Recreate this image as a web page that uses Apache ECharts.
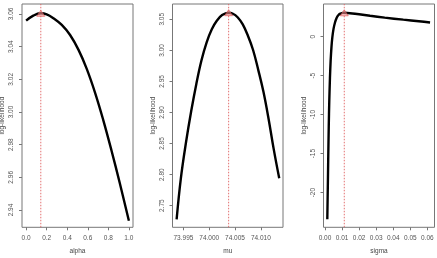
<!DOCTYPE html>
<html><head><meta charset="utf-8">
<script src="https://cdn.jsdelivr.net/npm/echarts@6/dist/echarts.min.js"></script>
<style>html,body{margin:0;padding:0;background:#fff}#c{width:437px;height:258px}</style>
</head><body><div id="c"></div>
<script>
// ---- data ----
const alphaX  = [0, 0.07, 0.143, 0.2, 0.266, 0.347, 0.428, 0.51, 0.59, 0.672, 0.75, 0.83, 0.91, 1.0];
const alphaLL = [3.0559, 3.0590, 3.0604, 3.0598, 3.0574, 3.0533, 3.0471, 3.0380, 3.0264, 3.0116, 2.9952, 2.9766, 2.9568, 2.9334];
const alphaHat = [0.143, 3.0604];
const alphaTicks = [0, 0.2, 0.4, 0.6, 0.8, 1.0];
const alphaYTicks = [2.94, 2.96, 2.98, 3.00, 3.02, 3.04, 3.06];

const muX  = [73.99368, 73.9945, 73.9955, 73.9965, 73.9975, 73.9985, 73.9995, 74.0005, 74.0015, 74.0025, 74.00376, 74.0045, 74.0055, 74.0065, 74.0075, 74.0085, 74.0095, 74.0105, 74.0115, 74.0125, 74.01357];
const muLL = [2.728, 2.794, 2.852, 2.902, 2.946, 2.984, 3.013, 3.034, 3.048, 3.0568, 3.0606, 3.0593, 3.0533, 3.0417, 3.0234, 3.0006, 2.9686, 2.9336, 2.890, 2.841, 2.794];
const muHat = [74.00376, 3.0606];
const muTicks = [73.995, 74.000, 74.005, 74.010];
const muYTicks = [2.75, 2.80, 2.85, 2.90, 2.95, 3.00, 3.05];

const sigmaX  = [0.00135, 0.0017, 0.0019, 0.0022, 0.0025, 0.0029, 0.0033, 0.0038, 0.0043, 0.005, 0.0059, 0.0068, 0.0078, 0.009, 0.0104, 0.0113, 0.013, 0.016, 0.02, 0.0264, 0.035, 0.0459, 0.055, 0.0616];
const sigmaLL = [-23.4, -18.5, -15.5, -11.5, -8.3, -5.3, -3.1, -1.3, -0.1, 1.0, 1.85, 2.4, 2.75, 2.95, 3.05, 3.06, 3.04, 2.98, 2.87, 2.68, 2.44, 2.18, 1.98, 1.82];
const sigmaHat = [0.0113, 3.06];
const sigmaTicks = [0, 0.01, 0.02, 0.03, 0.04, 0.05, 0.06];
const sigmaYTicks = [-20, -15, -10, -5, 0];

const xNames = ['alpha', 'mu', 'sigma'];
const yName = 'log-likelihood';

// ---- layout ----
const FONT = 'Liberation Sans, Arial, sans-serif';
const panels = [
  {left: 22, width: 111, xr: [-0.04, 1.04], yr: [2.9294, 3.0661], xt: alphaTicks, yt: alphaYTicks, xs: alphaX, ys: alphaLL, hat: alphaHat,
   xf: v => v.toFixed(1), yf: v => v.toFixed(2)},
  {left: 172.5, width: 110.5, xr: [73.99288, 74.01430], yr: [2.7152, 3.0746], xt: muTicks, yt: muYTicks, xs: muX, ys: muLL, hat: muHat,
   xf: v => v.toFixed(3), yf: v => v.toFixed(2)},
  {left: 323.5, width: 111, xr: [-0.00088, 0.0642], yr: [-24.44, 4.19], xt: sigmaTicks, yt: sigmaYTicks, xs: sigmaX, ys: sigmaLL, hat: sigmaHat,
   xf: v => v.toFixed(2), yf: v => String(v)}
];

const grid = [], xAxis = [], yAxis = [], series = [];
panels.forEach((p, i) => {
  grid.push({left: p.left, top: 4, width: p.width, height: 223.3, containLabel: false, outerBoundsMode: 'none',
    show: true, borderColor: '#777', borderWidth: 1, backgroundColor: 'transparent'});
  xAxis.push({
    type: 'value', gridIndex: i, min: p.xr[0], max: p.xr[1],
    name: xNames[i], nameLocation: 'middle', nameGap: 20,
    nameTextStyle: {fontSize: 6.5, color: '#444', fontFamily: FONT},
    axisLine: {show: false, onZero: false}, splitLine: {show: false},
    axisTick: {show: true, length: 3, lineStyle: {color: '#777'}, customValues: p.xt},
    axisLabel: {fontSize: 6.5, color: '#555', fontFamily: FONT, margin: 7, customValues: p.xt, formatter: p.xf}
  });
  yAxis.push({
    type: 'value', gridIndex: i, min: p.yr[0], max: p.yr[1],
    name: yName, nameLocation: 'middle', nameGap: 16, nameRotate: 90,
    nameTextStyle: {fontSize: 6.5, color: '#444', fontFamily: FONT},
    axisLine: {show: false, onZero: false}, splitLine: {show: false},
    axisTick: {show: true, length: 3, lineStyle: {color: '#777'}, customValues: p.yt},
    axisLabel: {fontSize: 6.5, color: '#555', fontFamily: FONT, margin: 7, rotate: 90, customValues: p.yt, formatter: p.yf}
  });
  // vertical dotted line at the maximum
  series.push({
    type: 'line', xAxisIndex: i, yAxisIndex: i,
    data: [[p.hat[0], p.yr[0]], [p.hat[0], p.yr[1]]],
    showSymbol: false, symbol: 'none', silent: true,
    lineStyle: {color: '#e06060', type: [1.5, 1.5], width: 0.9},
    z: 2
  });
  series.push({
    type: 'line', xAxisIndex: i, yAxisIndex: i,
    data: p.xs.map((x, k) => [x, p.ys[k]]),
    smooth: i === 2 ? 0.25 : 0.4, showSymbol: false, symbol: 'none',
    lineStyle: {color: '#000', width: 2.4},
    z: 3
  });
  series.push({
    type: 'scatter', xAxisIndex: i, yAxisIndex: i,
    data: [p.hat], symbol: 'triangle', symbolSize: [8, 6],
    itemStyle: {color: 'rgba(240,140,140,0.75)', borderColor: '#dd5555', borderWidth: 0.8},
    z: 4
  });
});

const chart = echarts.init(document.getElementById('c'), null, {renderer: 'canvas'});
chart.setOption({animation: false, backgroundColor: '#fff', grid, xAxis, yAxis, series});
</script>
</body></html>
